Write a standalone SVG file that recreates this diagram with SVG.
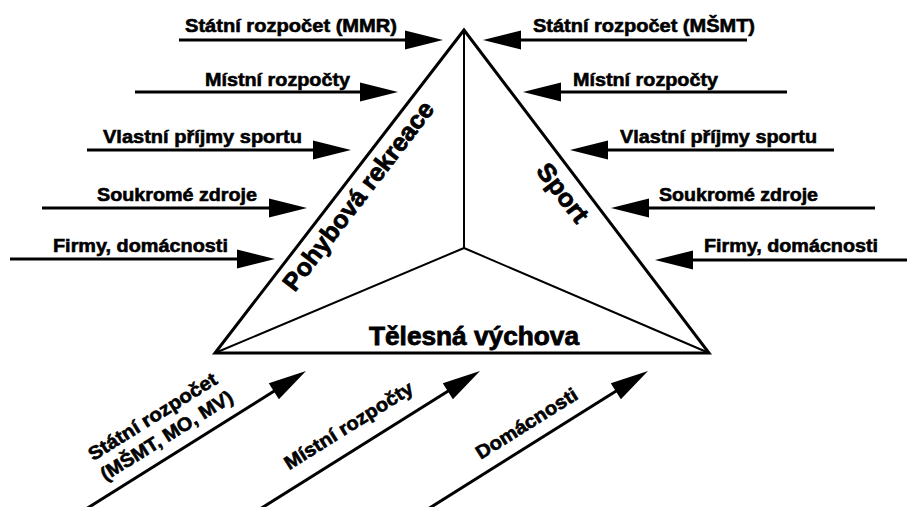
<svg xmlns="http://www.w3.org/2000/svg" width="907" height="507" viewBox="0 0 907 507">
<defs>
<style>
.lbl{font-family:"Liberation Sans",Arial,Helvetica,sans-serif;font-weight:bold;font-size:19px;fill:#000;stroke:#000;stroke-width:0.6px}
.big{font-family:"Liberation Sans",Arial,Helvetica,sans-serif;font-weight:bold;font-size:25px;fill:#000;stroke:#000;stroke-width:0.8px}
.arr{stroke:#000;stroke-width:3;fill:none;marker-end:url(#ah)}
.outer{stroke:#000;stroke-width:3;fill:#fff;stroke-linejoin:miter}
.inner{stroke:#000;stroke-width:2;fill:none}
</style>
<marker id="ah" markerUnits="userSpaceOnUse" markerWidth="40" markerHeight="20" refX="8" refY="9.5" orient="auto" overflow="visible">
<path d="M0,0 L38,9.5 L0,19 Z" fill="#000"/>
</marker>
</defs>
<rect width="907" height="507" fill="#fff"/>
<g id="triangle">
<polygon class="outer" points="464,30 215,353 709,353"/>
<line class="inner" x1="464" y1="30" x2="464" y2="248"/>
<line class="inner" x1="464" y1="248" x2="215" y2="353"/>
<line class="inner" x1="464" y1="248" x2="709" y2="353"/>
<text class="big" x="365" y="201" text-anchor="middle" transform="rotate(-52.5 365 201)" textLength="231" lengthAdjust="spacingAndGlyphs">Pohybová rekreace</text>
<text class="big" x="556" y="198" text-anchor="middle" transform="rotate(52.5 556 198)" textLength="68" lengthAdjust="spacingAndGlyphs">Sport</text>
<text class="big" x="369" y="345" textLength="210" lengthAdjust="spacingAndGlyphs">Tělesná výchova</text>
</g>
<g id="connectors">
<line class="arr" x1="179" y1="40" x2="413" y2="40"/>
<line class="arr" x1="135" y1="92" x2="368" y2="92"/>
<line class="arr" x1="87" y1="150" x2="321" y2="150"/>
<line class="arr" x1="42" y1="208" x2="277" y2="208"/>
<line class="arr" x1="10" y1="259" x2="245" y2="259"/>
<line class="arr" x1="747" y1="40" x2="513" y2="40"/>
<line class="arr" x1="787" y1="92" x2="553" y2="92"/>
<line class="arr" x1="834" y1="150" x2="600" y2="150"/>
<line class="arr" x1="875" y1="208" x2="641" y2="208"/>
<line class="arr" x1="912" y1="260" x2="685" y2="260"/>
<line class="arr" x1="86" y1="509" x2="280.6" y2="387"/>
<line class="arr" x1="260" y1="509" x2="454.6" y2="387"/>
<line class="arr" x1="428" y1="509" x2="622.6" y2="387"/>
</g>
<g id="src-left-1"><text class="lbl" x="185" y="32" textLength="212" lengthAdjust="spacingAndGlyphs">Státní rozpočet (MMR)</text></g>
<g id="src-left-2"><text class="lbl" x="205" y="86" textLength="145" lengthAdjust="spacingAndGlyphs">Místní rozpočty</text></g>
<g id="src-left-3"><text class="lbl" x="103" y="143" textLength="199" lengthAdjust="spacingAndGlyphs">Vlastní příjmy sportu</text></g>
<g id="src-left-4"><text class="lbl" x="97" y="201" textLength="160" lengthAdjust="spacingAndGlyphs">Soukromé zdroje</text></g>
<g id="src-left-5"><text class="lbl" x="53" y="252" textLength="175" lengthAdjust="spacingAndGlyphs">Firmy, domácnosti</text></g>
<g id="src-right-1"><text class="lbl" x="533" y="32" textLength="222" lengthAdjust="spacingAndGlyphs">Státní rozpočet (MŠMT)</text></g>
<g id="src-right-2"><text class="lbl" x="573" y="86" textLength="145" lengthAdjust="spacingAndGlyphs">Místní rozpočty</text></g>
<g id="src-right-3"><text class="lbl" x="620" y="143" textLength="197" lengthAdjust="spacingAndGlyphs">Vlastní příjmy sportu</text></g>
<g id="src-right-4"><text class="lbl" x="659" y="201" textLength="159" lengthAdjust="spacingAndGlyphs">Soukromé zdroje</text></g>
<g id="src-right-5"><text class="lbl" x="704" y="252" textLength="174" lengthAdjust="spacingAndGlyphs">Firmy, domácnosti</text></g>
<g id="src-bottom-1">
<text class="lbl" x="156" y="422" text-anchor="middle" transform="rotate(-32 156 422)" textLength="148" lengthAdjust="spacingAndGlyphs">Státní rozpočet</text>
<text class="lbl" x="170" y="441" text-anchor="middle" transform="rotate(-32 170 441)" textLength="152" lengthAdjust="spacingAndGlyphs">(MŠMT, MO, MV)</text>
</g>
<g id="src-bottom-2"><text class="lbl" x="352" y="431" text-anchor="middle" transform="rotate(-32 352 431)" textLength="148" lengthAdjust="spacingAndGlyphs">Místní rozpočty</text></g>
<g id="src-bottom-3"><text class="lbl" x="530" y="429" text-anchor="middle" transform="rotate(-32 530 429)" textLength="116" lengthAdjust="spacingAndGlyphs">Domácnosti</text></g>
</svg>
